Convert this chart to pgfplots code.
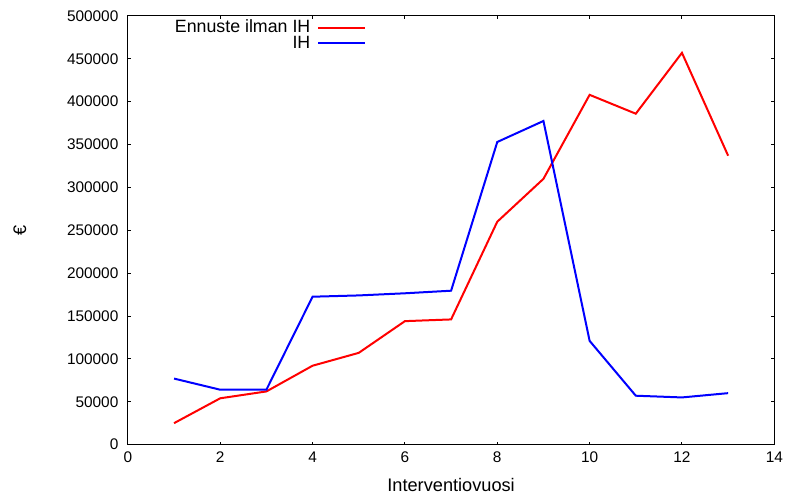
\documentclass[border=0pt]{standalone}
\usepackage{fontspec}
\setmainfont{Liberation Sans}
\usepackage{pgfplots}
\pgfplotsset{compat=1.18}
\begin{document}
\fontsize{7.7}{9}\selectfont
\begin{tikzpicture}
\begin{axis}[
  name=ax,
  scale only axis,
  width=323.5pt, height=214.5pt,
  xmin=0, xmax=14, ymin=0, ymax=500000,
  xtick={0,2,...,14},
  ytick={0,50000,...,500000},
  scaled y ticks=false,
  /pgf/number format/assume math mode=true,
  yticklabel style={/pgf/number format/fixed, /pgf/number format/1000 sep={}},
  tick align=inside,
  major tick length=1.5pt,
  minor tick num=0,
  axis line style={line width=0.5pt},
  every tick/.style={black, line width=0.5pt},
  ticklabel style={font=\fontsize{7.7}{9}\selectfont},
  xticklabel style={yshift=-1pt},
  yticklabel style={xshift=-2pt},
  xlabel={Interventiovuosi},
  ylabel={€},
  x label style={at={(axis description cs:0.5,0)}, anchor=center, yshift=-20pt, font=\fontsize{9.1}{11}\selectfont},
  y label style={at={(axis description cs:-0.167,0.5)}, anchor=center, font=\fontsize{9.1}{11}\selectfont},
  legend plot pos=right,
  legend cell align=right,
  legend style={draw=none, fill=none, at={(rel axis cs:0.3694,0.994)}, anchor=north east,
    inner sep=0pt, row sep=-0.6pt, nodes={inner ysep=0.5pt, inner xsep=3.5pt}, font=\fontsize{8.9}{10}\selectfont},
  legend image code/.code={\draw[#1] (0pt,0pt) -- (23.5pt,0pt);},
]
\addplot[red, line width=1pt] coordinates {
(1,25000) (2,54000) (3,62000) (4,92000) (5,107000) (6,144000) (7,146000)
(8,260000) (9,310000) (10,408000) (11,386000) (12,457000) (13,337000)};
\addlegendentry{Ennuste ilman IH}
\addplot[blue, line width=1pt] coordinates {
(1,77000) (2,64000) (3,64000) (4,172500) (5,174000) (6,176500) (7,179500)
(8,353000) (9,377500) (10,121000) (11,57000) (12,55000) (13,60000)};
\addlegendentry{IH}
\end{axis}
\path ([shift={(-64pt,-23.5pt)}]ax.south west) rectangle ([shift={(6.5pt,8pt)}]ax.north east);
\end{tikzpicture}
\end{document}
